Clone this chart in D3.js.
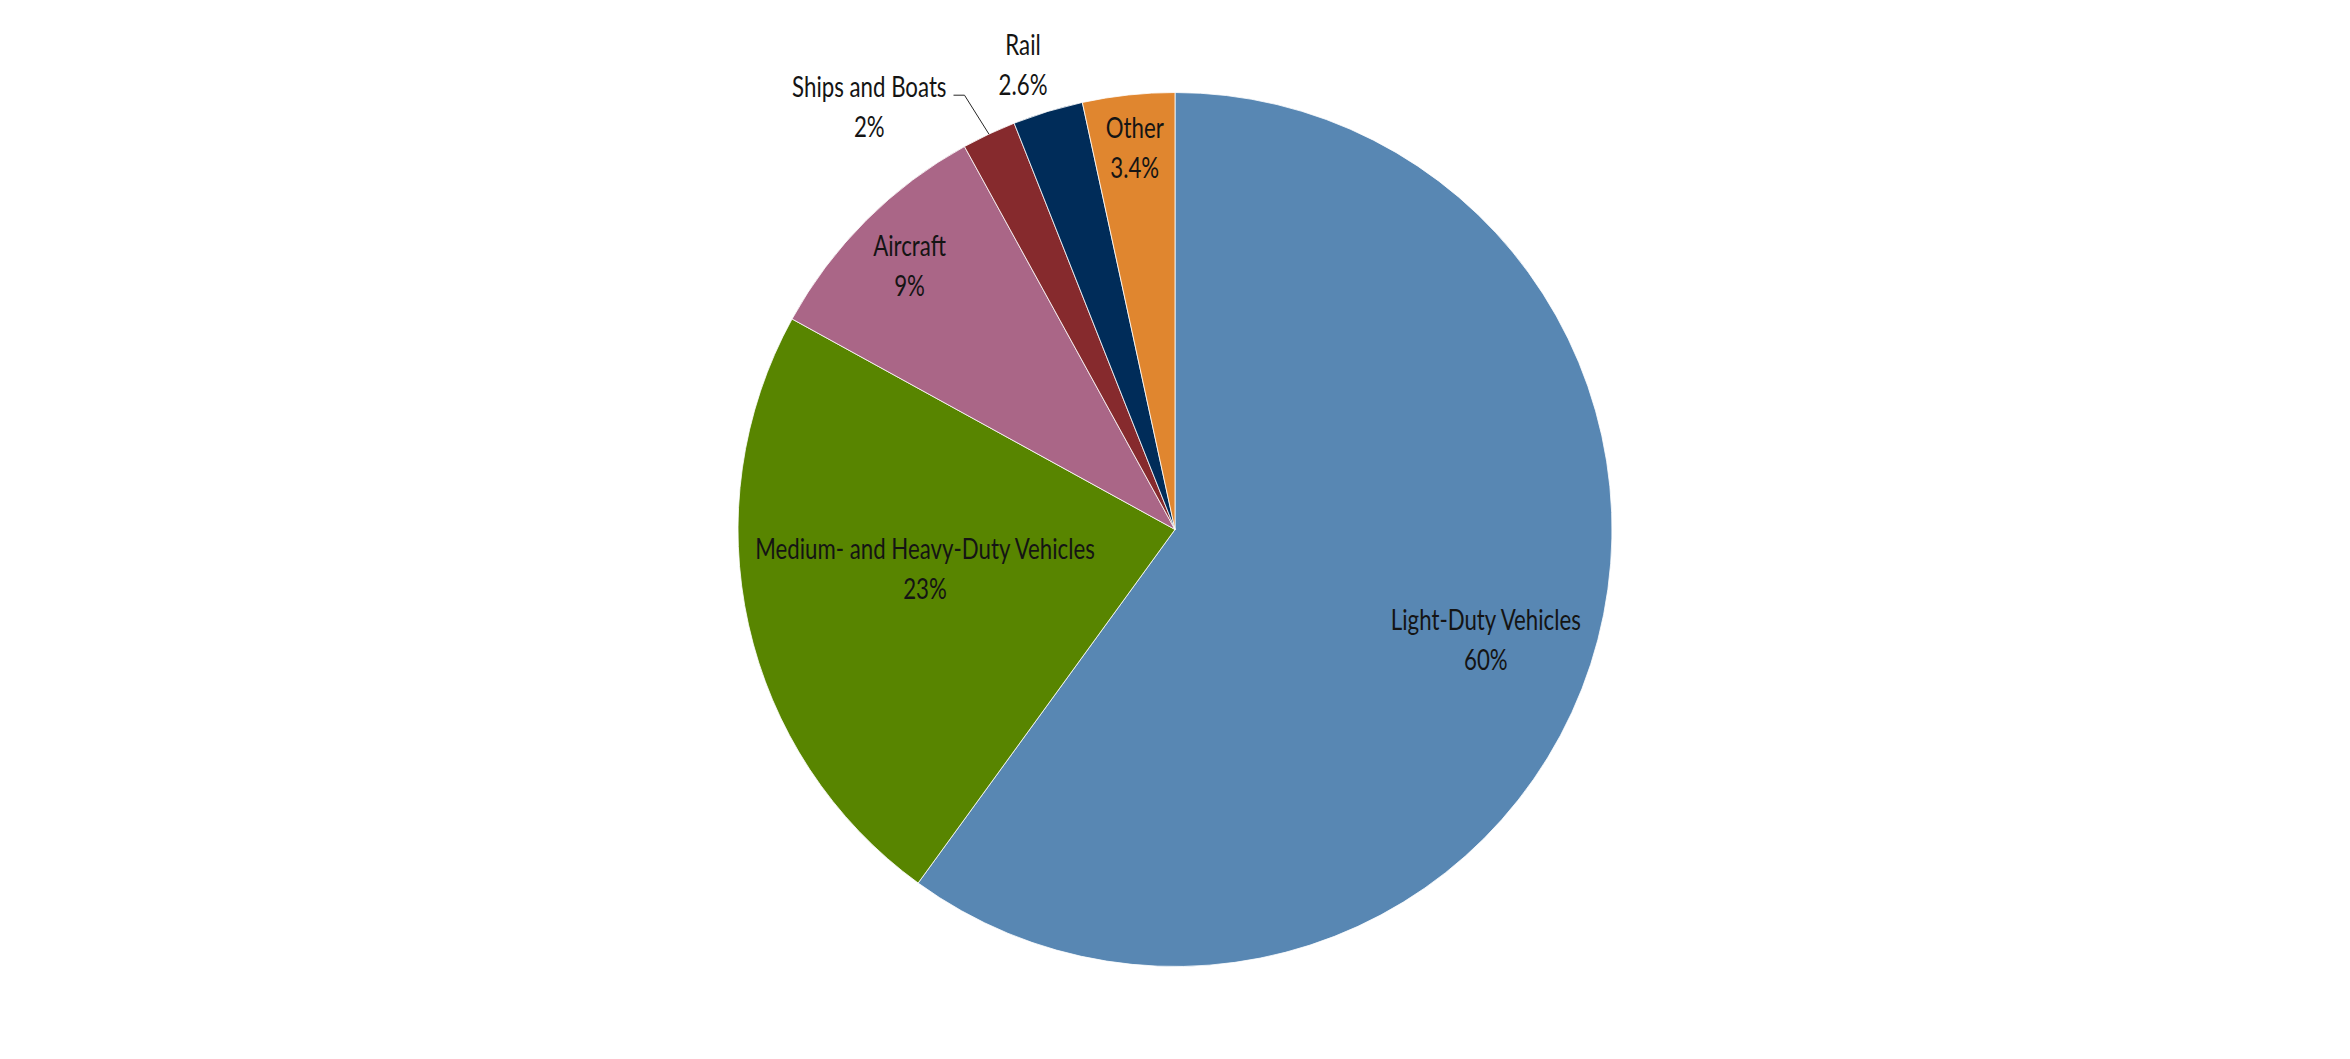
<!DOCTYPE html>
<html>
<head>
<meta charset="utf-8">
<script src="https://cdn.jsdelivr.net/npm/d3@7/dist/d3.min.js"></script>
<style>
  html, body { margin: 0; padding: 0; background: #ffffff; }
  svg { display: block; }
  text { font-family: Lato, "Open Sans", "DejaVu Sans", sans-serif; }
</style>
</head>
<body>
<svg id="chart" width="2350" height="1059"></svg>
<script>
// ---- data ----
const categories = ["Light-Duty Vehicles", "Medium- and Heavy-Duty Vehicles", "Aircraft", "Ships and Boats", "Rail", "Other"];
const values = [60, 23, 9, 2, 2.6, 3.4];
const valueLabels = ["60%", "23%", "9%", "2%", "2.6%", "3.4%"];
const colors = ["#5887b3", "#588500", "#aa6687", "#862a2d", "#002c59", "#e0862f"];

// ---- layout (label placement: radius factor, angle tweak in degrees, leader line) ----
const W = 2350, H = 1059;
const cx = 1175, cy = 529.5, R = 437;
const placement = [
  { k: 0.755, da: 1.6, leader: false },
  { k: 0.579, da: 3.7, leader: false },
  { k: 0.856, da: -0.2, leader: false },
  { k: 1.193, da: -10.7, leader: true },
  { k: 1.118, da: -1.2, leader: false },
  { k: 0.878, da: 0.1, leader: false }
];
const fontSize = 28, capH = 20, lineGap = 40;
const refTextWidth = 190; // width of the "Light-Duty Vehicles" line in the picture

const data = categories.map((c, i) => ({ name: c, value: values[i], label: valueLabels[i], color: colors[i], place: placement[i] }));

const svg = d3.select("#chart");
svg.append("rect").attr("width", W).attr("height", H).attr("fill", "#ffffff");

const g = svg.append("g").attr("transform", `translate(${cx},${cy})`);

const pie = d3.pie().value(d => d.value).sort(null);
const arc = d3.arc().innerRadius(0).outerRadius(R);
const arcs = pie(data);

g.selectAll("path.slice")
  .data(arcs)
  .enter().append("path")
  .attr("class", "slice")
  .attr("d", arc)
  .attr("fill", d => d.data.color)
  .attr("stroke", "#ffffff")
  .attr("stroke-width", 0.8)
  .attr("stroke-linejoin", "round");

// measure to derive a horizontal condense factor (the reference uses a condensed face)
const probe = svg.append("text").attr("font-size", fontSize).text(categories[0]);
const sx = refTextWidth / probe.node().getComputedTextLength();
probe.remove();

const toRad = Math.PI / 180;
arcs.forEach(a => {
  const p = a.data.place;
  const mid = (a.startAngle + a.endAngle) / 2;
  const ang = mid + p.da * toRad;
  const r = p.k * R;
  const x = Math.sin(ang) * r;
  const y = -Math.cos(ang) * r;
  const lg = g.append("g").attr("transform", `translate(${x},${y}) scale(${sx},1)`);
  const t = lg.append("text")
    .attr("text-anchor", "middle")
    .attr("font-size", fontSize)
    .attr("fill", "#141414");
  t.append("tspan").attr("x", 0).attr("y", -(capH + lineGap) / 2 + capH).text(a.data.name);
  t.append("tspan").attr("x", 0).attr("y", (capH + lineGap) / 2).text(a.data.label);

  if (p.leader) {
    const w = t.select("tspan").node().getComputedTextLength() * sx;
    const lx = x + w / 2 + 7;
    const ly = y - (capH + lineGap) / 2 + capH - 2;
    const ex = Math.sin(mid) * R;
    const ey = -Math.cos(mid) * R;
    g.append("polyline")
      .attr("points", `${lx},${ly} ${lx + 11},${ly} ${ex},${ey}`)
      .attr("fill", "none")
      .attr("stroke", "#262626")
      .attr("stroke-width", 1);
  }
});
</script>
</body>
</html>
